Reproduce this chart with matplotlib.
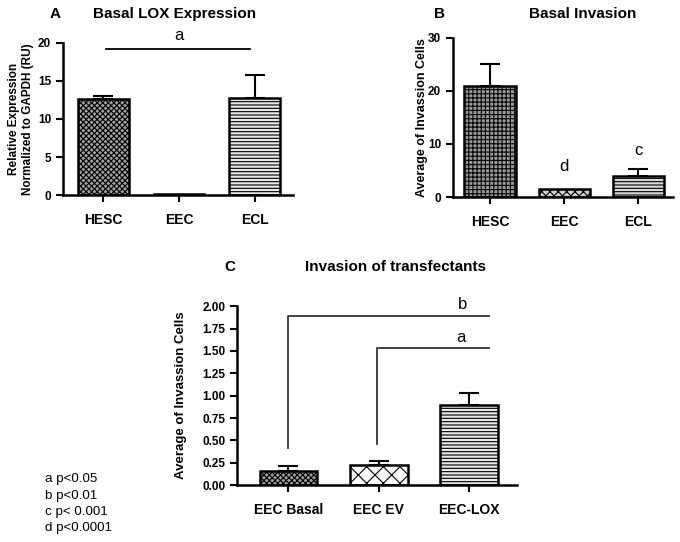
import matplotlib
matplotlib.use("Agg")
import matplotlib.pyplot as plt
import numpy as np

plt.rcParams['font.family'] = ['Liberation Sans', 'DejaVu Sans']
plt.rcParams['hatch.linewidth'] = 0.8

# Panel A
a_cats = ["HESC", "EEC", "ECL"]
a_vals = [12.6, 0.1, 12.7]
a_err = [0.45, 0.0, 3.1]
# Panel B
b_cats = ["HESC", "EEC", "ECL"]
b_vals = [21.0, 1.6, 3.95]
b_err = [4.1, 0.0, 1.35]
# Panel C
c_cats = ["EEC Basal", "EEC EV", "EEC-LOX"]
c_vals = [0.16, 0.22, 0.89]
c_err = [0.05, 0.05, 0.145]

pvals = ["a p<0.05", "b p<0.01", "c p< 0.001", "d p<0.0001"]

fig = plt.figure(figsize=(6.8, 5.42), dpi=100)

def style(ax):
    for s in ['top', 'right']:
        ax.spines[s].set_visible(False)
    for s in ['left', 'bottom']:
        ax.spines[s].set_linewidth(1.8)
    ax.tick_params(axis='both', width=1.5, length=5, labelsize=8.5)
    ax.tick_params(axis='x', labelsize=10, pad=8)
    for lbl in ax.get_xticklabels() + ax.get_yticklabels():
        lbl.set_fontweight('bold')

def bars(ax, cats, vals, errs, width, faces, hatches):
    x = np.arange(len(cats))
    for i in range(len(cats)):
        ax.bar(x[i], vals[i], width=width, color=faces[i], edgecolor='black',
               linewidth=1.8, hatch=hatches[i], zorder=2)
        if errs[i] > 0:
            ax.errorbar(x[i], vals[i], yerr=[[0], [errs[i]]], color='black',
                        capsize=7, elinewidth=1.5, capthick=1.5, zorder=1)
    ax.set_xticks(x)
    ax.set_xticklabels(cats)

# ---- A
axA = fig.add_axes([0.0926, 0.640, 0.338, 0.281])
bars(axA, a_cats, a_vals, a_err, 0.67,
     ['#a0a0a0', 'white', '#e8e8e8'], ['xxxxxx', '', '-----'])
axA.set_xlim(-0.53, 2.5)
axA.set_ylim(0, 20)
axA.set_yticks([0, 5, 10, 15, 20])
style(axA)
axA.set_ylabel("Relative Expression\nNormalized to GAPDH (RU)", fontsize=8.5,
               fontweight='bold', labelpad=3)
axA.plot([0.04, 1.93], [19.2, 19.2], color='black', lw=1.3, clip_on=False)
axA.text(1.0, 20.0, "a", ha='center', va='bottom', fontsize=12)
fig.text(0.257, 0.975, "Basal LOX Expression", ha='center', va='center',
         fontsize=11, fontweight='bold')
fig.text(0.081, 0.975, "A", ha='center', va='center', fontsize=11, fontweight='bold')

# ---- B
axB = fig.add_axes([0.666, 0.6365, 0.324, 0.2935])
bars(axB, b_cats, b_vals, b_err, 0.69,
     ['#9a9a9a', '#d0d0d0', '#d8d8d8'], ['++++', 'xxxx', '-----'])
axB.set_xlim(-0.5, 2.47)
axB.set_ylim(0, 30)
axB.set_yticks([0, 10, 20, 30])
style(axB)
axB.set_ylabel("Average of Invassion Cells", fontsize=9, fontweight='bold', labelpad=0)
axB.text(1.0, 4.3, "d", ha='center', va='bottom', fontsize=12)
axB.text(2.0, 7.3, "c", ha='center', va='bottom', fontsize=12)
fig.text(0.857, 0.975, "Basal Invasion", ha='center', va='center',
         fontsize=11, fontweight='bold')
fig.text(0.647, 0.975, "B", ha='center', va='center', fontsize=11, fontweight='bold')

# ---- C
axC = fig.add_axes([0.3485, 0.105, 0.4115, 0.330])
bars(axC, c_cats, c_vals, c_err, 0.64,
     ['#a0a0a0', 'white', '#e8e8e8'], ['xxxxxx', 'xx', '-----'])
axC.set_xlim(-0.57, 2.53)
axC.set_ylim(0, 2.0)
axC.set_yticks([0, 0.25, 0.5, 0.75, 1.0, 1.25, 1.5, 1.75, 2.0])
axC.set_yticklabels(["0.00", "0.25", "0.50", "0.75", "1.00", "1.25", "1.50", "1.75", "2.00"])
style(axC)
axC.set_ylabel("Average of Invassion Cells", fontsize=9.5, fontweight='bold', labelpad=11)
axC.plot([0, 0, 2.22], [0.42, 1.89, 1.89], color='#333333', lw=1.3, clip_on=False)
axC.plot([0.98, 0.98, 2.22], [0.46, 1.53, 1.53], color='#333333', lw=1.3, clip_on=False)
axC.text(1.93, 1.93, "b", ha='center', va='bottom', fontsize=12)
axC.text(1.91, 1.57, "a", ha='center', va='bottom', fontsize=12)
fig.text(0.581, 0.507, "Invasion of transfectants", ha='center', va='center',
         fontsize=11, fontweight='bold')
fig.text(0.338, 0.507, "C", ha='center', va='center', fontsize=11, fontweight='bold')

# p-value legend
for i, t in enumerate(pvals):
    fig.text(0.066, 1 - (479 + i * 16.5) / 542, t, ha='left', va='center', fontsize=9.6)

fig.savefig("out.png", dpi=100)
